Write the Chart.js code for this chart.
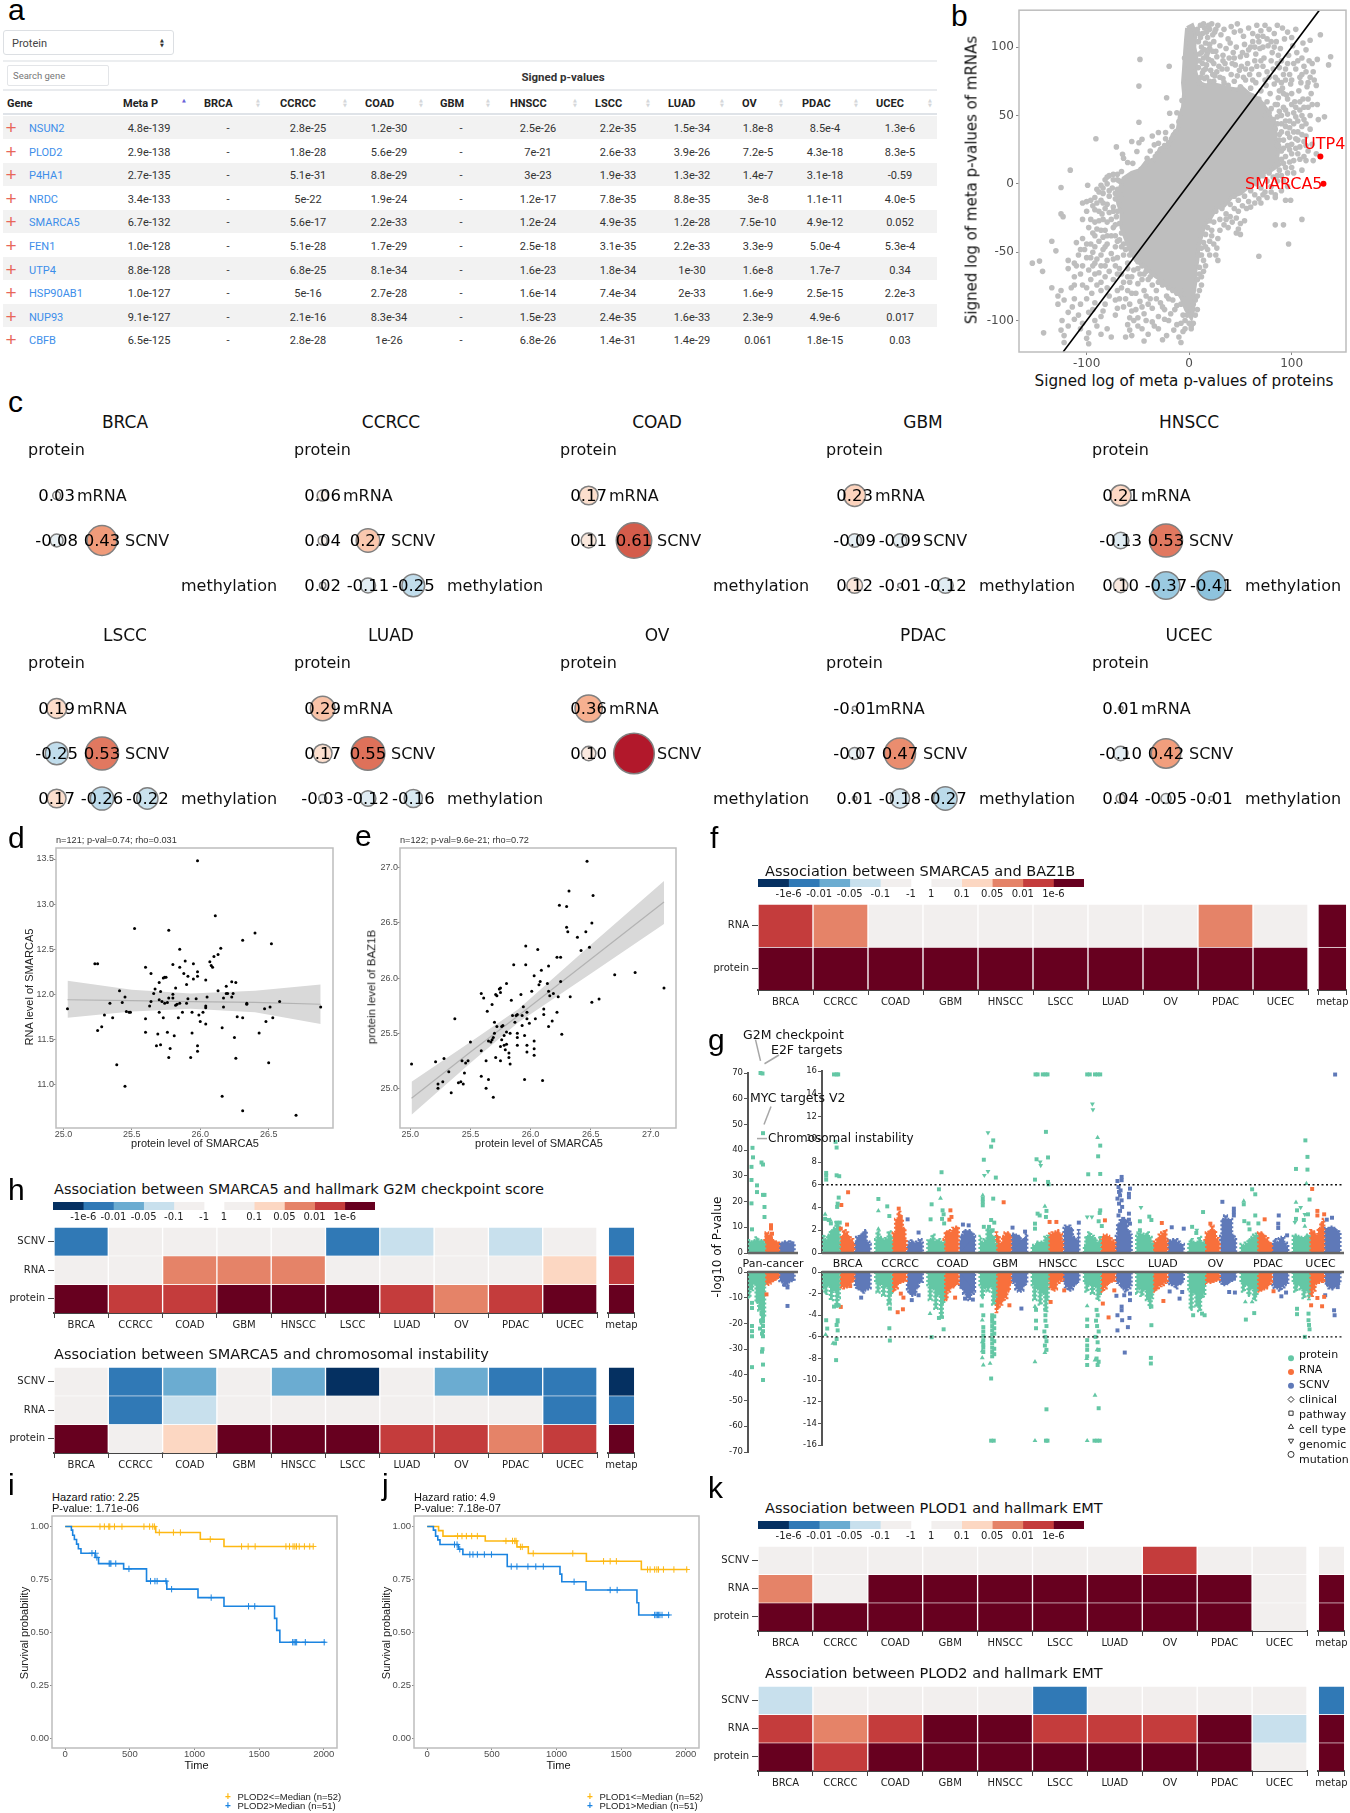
<!DOCTYPE html>
<html lang="en">
<head>
<meta charset="UTF-8">
<title>SMARCA5 multi-panel figure</title>
<script src="https://cdn.jsdelivr.net/npm/chart.js"></script>
<style>
    body { margin: 0; background: #fff; }
    #page { position: relative; width: 1350px; height: 1813px; overflow: hidden; background: #fff; }
    #page canvas { position: absolute; }
    .t { position: absolute; white-space: nowrap; line-height: 1; z-index: 2; }
    .box { position: absolute; box-sizing: border-box; }
</style>
</head>
<body>
<div id="page"></div>
<script>
// ---------- panel a: table values ----------
const tableGenes = ['NSUN2','PLOD2','P4HA1','NRDC','SMARCA5','FEN1','UTP4','HSP90AB1','NUP93','CBFB'];
const tableMetaP = ['4.8e-139','2.9e-138','2.7e-135','3.4e-133','6.7e-132','1.0e-128','8.8e-128','1.0e-127','9.1e-127','6.5e-125'];
const tableBRCA = ['-','-','-','-','-','-','-','-','-','-'];
const tableCCRCC = ['2.8e-25','1.8e-28','5.1e-31','5e-22','5.6e-17','5.1e-28','6.8e-25','5e-16','2.1e-16','2.8e-28'];
const tableCOAD = ['1.2e-30','5.6e-29','8.8e-29','1.9e-24','2.2e-33','1.7e-29','8.1e-34','2.7e-28','8.3e-34','1e-26'];
const tableGBM = ['-','-','-','-','-','-','-','-','-','-'];
const tableHNSCC = ['2.5e-26','7e-21','3e-23','1.2e-17','1.2e-24','2.5e-18','1.6e-23','1.6e-14','1.5e-23','6.8e-26'];
const tableLSCC = ['2.2e-35','2.6e-33','1.9e-33','7.8e-35','4.9e-35','3.1e-35','1.8e-34','7.4e-34','2.4e-35','1.4e-31'];
const tableLUAD = ['1.5e-34','3.9e-26','1.3e-32','8.8e-35','1.2e-28','2.2e-33','1e-30','2e-33','1.6e-33','1.4e-29'];
const tableOV = ['1.8e-8','7.2e-5','1.4e-7','3e-8','7.5e-10','3.3e-9','1.6e-8','1.6e-9','2.3e-9','0.061'];
const tablePDAC = ['8.5e-4','4.3e-18','3.1e-18','1.1e-11','4.9e-12','5.0e-4','1.7e-7','2.5e-15','4.9e-6','1.8e-15'];
const tableUCEC = ['1.3e-6','8.3e-5','-0.59','4.0e-5','0.052','5.3e-4','0.34','2.2e-3','0.017','0.03'];

// ---------- panel b: protein vs mRNA ----------
const bTicksX = [-100, 0, 100];
const bTicksY = [-100, -50, 0, 50, 100];
// outline of the solid part of the cloud
const bCloudOutline = [[-2,114],[3,116],[6,110],[5,100],[7,92],[6,82],[9,74],[16,72],[22,73],[29,72],[38,70],[46,69],[52,70],[58,66],[64,64],[70,60],[76,54],[80,48],[84,44],[84,34],[88,28],[86,20],[88,14],[80,10],[72,8],[66,2],[58,-2],[50,-7],[42,-9],[34,-16],[26,-18],[20,-26],[15,-30],[12,-38],[9,-46],[8,-56],[6,-64],[6,-72],[4,-82],[4,-92],[2,-98],[-3,-92],[-7,-84],[-12,-78],[-20,-76],[-28,-70],[-36,-66],[-44,-60],[-52,-56],[-58,-48],[-62,-40],[-66,-32],[-66,-22],[-70,-12],[-68,-4],[-64,4],[-56,8],[-48,10],[-42,16],[-34,18],[-28,26],[-20,28],[-16,36],[-11,40],[-9,50],[-6,56],[-5,66],[-6,74],[-5,84],[-4,96],[-3,106],[-2,114]];
// the loose points around it, estimated one by one
const bLoosePoints = [
 [8,113],[11,116],[13,110],[15,114],[18,107],[20,113],[22,117],[25,111],[9,104],[12,100],[16,103],[20,99],[24,104],[28,116],[31,109],[34,113],[38,106],[41,115],[44,111],[47,117],[50,112],[53,108],[58,114],[62,110],[66,116],[70,112],[74,116],[68,104],[72,108],[78,113],[83,110],[86,116],[91,114],[96,111],[100,107],[104,113],[111,103],[118,105],[128,109],[138,93],[136,87],
 [10,95],[14,92],[18,96],[22,90],[26,97],[30,101],[33,94],[36,99],[40,103],[43,96],[46,100],[50,93],[54,102],[58,98],[62,104],[65,95],[69,99],[73,92],[77,101],[81,96],[85,104],[89,99],[93,106],[97,94],[101,101],[105,96],[110,92],[114,98],[120,88],[125,91],
 [9,85],[13,81],[17,87],[21,83],[25,79],[29,86],[33,90],[37,84],[41,80],[45,87],[49,83],[53,78],[57,88],[61,84],[64,90],[68,80],[72,86],[76,82],[80,90],[84,78],[88,85],[92,80],[96,88],[100,76],[104,84],[108,78],[112,86],[116,74],[121,82],[124,72],[117,90],
 [10,74],[15,77],[24,75],[33,77],[38,72],[44,75],[50,71],[55,76],[60,70],[65,74],[70,68],[75,72],[79,66],[83,73],[87,63],[91,70],[95,65],[99,73],[103,60],[107,68],[111,62],[115,71],[119,66],[109,74],[94,76],[86,76],
 [62,64],[68,62],[72,58],[76,60],[80,55],[84,58],[88,53],[92,56],[96,51],[100,58],[104,49],[108,54],[112,47],[118,50],[125,58],[132,49],[126,47],[116,56],
 [74,50],[78,52],[82,47],[86,49],[90,44],[94,46],[98,41],[102,44],[106,38],[110,42],[114,35],[118,40],[84,40],[88,36],[92,32],[96,37],[100,29],[104,33],[108,27],[112,31],[116,24],[120,29],
 [82,38],[86,28],[90,24],[94,20],[98,25],[102,17],[106,22],[110,10],[114,17],[121,17],[124,22],[84,14],[88,10],[92,15],[96,8],[100,12],[78,8],[82,5],[86,2],[90,6],[72,6],[76,2],[80,-2],[66,0],[70,-3],[74,-6],[84,-8],[90,-5],
 [56,-2],[60,-5],[64,-8],[68,-11],[72,-8],[50,-6],[54,-9],[58,-13],[44,-9],[48,-12],[52,-16],[60,-17],[36,-12],[40,-15],[44,-18],[32,-18],[36,-22],[40,-24],[46,-25],[50,-29],[54,-27],[26,-20],[30,-26],[24,-28],[20,-27],[34,-30],[38,-32],[48,-33],[50,-37],[46,-36],[18,-32],[22,-34],[16,-37],[14,-43],[20,-42],[28,-40],[12,-47],[18,-48],[24,-44],[27,-47],[10,-52],[14,-56],[20,-52],[28,-56],[10,-61],[14,-64],[8,-70],[12,-68],[10,-78],[6,-85],[4,-88],[6,-96],[4,-102],[2,-106],[84,-10],[94,-12],[99,-12],[84,-30],[92,-30],[110,-26],[97,-44],[68,-53],
 [-48,91],[-19.5,86],[-49,71.5],[-22,63],[-4.5,92],[-19,51.6],[-7,61],[-12,52],[-49,45],[-10,45.5],[-91,33],[-71,27],[-16.6,42],[-13,38],[-30,37.5],[-23,37.5],[-36,35],[-46,32.6],[-56,31],[-49,30],[-34,28.5],[-30,29.7],[-23,33],[-17,33],[-31,22],[-51,23.6],[-65,21.6],[-64,18.7],[-55,15],[-60,15.6],[-41,18.7],[-33,20],[-43,12.6],[-47,10.7],[-116,10],[-99,-1],[-125,-2.7],[-38,24],[-28,25],[-24,28],[-20,30],[-37,16],
 [-70,7],[-78,6],[-66,9],[-82,3],[-74,3],[-68,2],[-86,-1],[-80,0],[-75,-3],[-88,-6],[-70,-4],[-66,-8],[-92,-10],[-84,-7],[-78,-9],[-72,-11],[-104,-14],[-100,-13],[-90,-14],[-86,-12],[-80,-15],[-74,-17],[-68,-15],[-100,-20],[-92,-19],[-85,-22],[-78,-21],[-71,-24],[-125,-22],[-123,-24],[-96,-26],[-88,-27],[-80,-28],[-68,-29],[-98,-32],[-90,-33],[-82,-34],[-74,-32],[-66,-36],[-92,-38],[-84,-39],[-76,-38],[-68,-41],[-110,-43],[-104,-40],[-96,-44],[-88,-42],[-80,-44],[-72,-46],[-64,-44],[-134,-42],[-102,-48],[-94,-50],[-84,-48],[-76,-51],[-62,-48],[-130,-49],[-108,-52],[-100,-54],[-90,-55],[-80,-56],[-70,-54],[-58,-52],[-118,-56],[-92,-58],[-86,-60],[-72,-60],[-60,-58],[-50,-57],[-146,-56.5],[-153,-58],[-143,-64],[-118,-62],[-110,-60],[-98,-63],[-88,-65],[-78,-64],[-66,-66],[-54,-63],[-46,-60],[-112,-68],[-96,-70],[-86,-72],[-74,-70],[-64,-72],[-56,-68],[-44,-66],[-104,-74],[-86,-78],[-66,-76],[-60,-78],[-50,-73],[-40,-70],[-30,-72],[-20,-76],
 [-125,-78],[-115,-76],[-95,-80],[-78,-82],[-62,-84],[-52,-80],[-44,-78],[-32,-78],[-22,-82],[-12,-80],[-134,-76],[-128,-82],[-122,-85],[-112,-84],[-92,-87],[-82,-88],[-72,-85],[-58,-88],[-48,-86],[-38,-84],[-28,-87],[-16,-85],[-128,-88],[-114,-90],[-94,-92],[-84,-93],[-70,-91],[-56,-93],[-46,-90],[-36,-91],[-24,-92],[-12,-89],[-6,-84],[-118,-94],[-108,-96],[-98,-94],[-86,-97],[-72,-96],[-58,-98],[-44,-95],[-30,-97],[-18,-95],[-6,-96],[0,-102],[-124,-100],[-112,-99],[-104,-102],[-92,-100],[-60,-103],[-54,-100],[-36,-101],[-24,-99],[-12,-103],[-4,-100],[2,-104],[-118,-104],[-106,-106],[-90,-104],[-80,-106],[-58,-107],[-50,-104],[-30,-106],[-15,-107],[-6,-108],[-125,-107],[-98,-109],[-86,-110],[-76,-112],[-56,-111],[-40,-110],[-22,-111],[-10,-112],[-4,-106],[-122,-111],[-100,-113],[-62,-112],[-44,-115],[-26,-114],[-8,-116],[-142,-109],[-122,-116],[-98,-117],
 // clumps that fill the speckled areas
 [9,110],[11,107],[14,117],[17,111],[19,116],[23,109],[26,113],[12,96],[15,98],[17,94],[20,102],[23,97],[10,90],[13,88],[16,84],[19,91],[24,88],[27,93],[11,78],[14,83],[17,78],[20,75],[23,80],[27,82],[30,78],[34,74],[32,84],[35,88],[39,92],[42,88],[44,92],[47,79],[51,86],[55,84],[59,80],[62,76],[66,86],[70,90],[74,76],[78,78],[82,84],[86,88],[90,74],[94,84],[98,80],[102,88],[106,90],[110,80],[114,82],[118,78],[122,76],[52,96],[56,94],[60,100],[64,100],[67,108],[72,100],[76,106],[80,104],[83,100],[87,94],[90,90],
 [88,68],[92,66],[96,62],[100,66],[104,56],[108,60],[112,56],[116,62],[120,58],[86,58],[90,50],[94,54],[98,46],[102,52],[106,46],[110,50],[114,44],[86,44],[90,38],[94,42],[98,34],[102,38],[106,32],[110,36],[114,28],[88,32],[92,26],[96,28],[100,22],[104,26],[108,18],[112,20],[90,18],[94,12],[98,16],[102,8],[86,6],[92,2],[96,-2],[80,-6],[76,-10],[70,-14],[64,-14],[56,-18],[48,-20],[42,-28],[36,-26],
 [12,-52],[16,-60],[12,-74],[8,-82],[8,-92],[10,-66],[16,-46],[22,-38],[30,-34],[26,-52],
 [-70,3],[-74,7],[-80,5],[-84,-3],[-90,-4],[-78,-5],[-72,-7],[-96,-12],[-84,-14],[-94,-16],[-88,-20],[-82,-18],[-74,-20],[-70,-20],[-104,-26],[-92,-28],[-84,-26],[-76,-26],[-72,-30],[-94,-36],[-86,-34],[-80,-38],[-72,-38],[-100,-44],[-92,-46],[-82,-46],[-70,-42],[-66,-46],[-106,-48],[-96,-54],[-86,-52],[-74,-55],[-64,-52],[-56,-50],[-112,-58],[-104,-60],[-94,-60],[-82,-60],[-68,-62],[-60,-62],[-50,-62],[-42,-64],[-106,-66],[-92,-66],[-82,-68],[-70,-66],[-60,-68],[-48,-66],[-38,-68],[-112,-74],[-100,-76],[-90,-74],[-80,-76],[-70,-78],[-58,-72],[-46,-70],[-36,-74],[-26,-74],[-16,-78],[-8,-78],[-68,-84],[-56,-80],[-42,-82],[-32,-84],[-20,-84],[-8,-88],[-64,-90],[-52,-92],[-40,-88],[-26,-90],[-14,-92],[-2,-96],[-106,-88],[-100,-84],[-50,-98],[-42,-100],[-20,-100],[-8,-102],[-46,-106],[-34,-104]
];
const bDiagonal = [[-123,-123],[127,127]];
const bHighlighted = [[128,20],[131,0]];

// ---------- panel c: correlation bubbles, [column, row, value] ----------
const cCancers = ['BRCA','CCRCC','COAD','GBM','HNSCC','LSCC','LUAD','OV','PDAC','UCEC'];
const cBRCA = [[0,0,0.03],[0,1,-0.08],[1,1,0.43]];
const cCCRCC = [[0,0,0.06],[0,1,0.04],[1,1,0.27],[0,2,0.02],[1,2,-0.11],[2,2,-0.25]];
const cCOAD = [[0,0,0.17],[0,1,0.11],[1,1,0.61]];
const cGBM = [[0,0,0.23],[0,1,-0.09],[1,1,-0.09],[0,2,0.12],[1,2,-0.01],[2,2,-0.12]];
const cHNSCC = [[0,0,0.21],[0,1,-0.13],[1,1,0.53],[0,2,0.10],[1,2,-0.37],[2,2,-0.41]];
const cLSCC = [[0,0,0.19],[0,1,-0.25],[1,1,0.53],[0,2,0.17],[1,2,-0.26],[2,2,-0.22]];
const cLUAD = [[0,0,0.29],[0,1,0.17],[1,1,0.55],[0,2,-0.03],[1,2,-0.12],[2,2,-0.16]];
const cOV = [[0,0,0.36],[0,1,0.10],[1,1,0.80,'nolabel']];
const cPDAC = [[0,0,-0.01],[0,1,-0.07],[1,1,0.47],[0,2,0.01],[1,2,-0.18],[2,2,-0.27]];
const cUCEC = [[0,0,0.01],[0,1,-0.10],[1,1,0.42],[0,2,0.04],[1,2,-0.05],[2,2,-0.01]];
const cValues = [cBRCA,cCCRCC,cCOAD,cGBM,cHNSCC,cLSCC,cLUAD,cOV,cPDAC,cUCEC];

// ---------- panels d, e: scatter plots ----------
const dTicksX = [25.0,25.5,26.0,26.5];
const dTicksY = [11.0,11.5,12.0,12.5,13.0,13.5];
const dPoints = [[25.03,11.84],[25.23,12.34],[25.25,12.34],[25.25,11.60],[25.28,11.64],[25.30,11.77],[25.34,11.90],[25.36,11.74],[25.39,11.22],[25.41,12.04],[25.43,11.91],[25.45,11.97],[25.45,10.98],[25.46,11.81],[25.48,11.80],[25.49,11.80],[25.52,12.73],[25.60,12.30],[25.60,11.73],[25.60,11.58],[25.63,11.87],[25.64,12.23],[25.64,11.92],[25.66,12.01],[25.67,12.06],[25.68,11.43],[25.69,11.56],[25.70,12.13],[25.70,11.80],[25.71,11.44],[25.71,12.03],[25.70,11.94],[25.72,11.92],[25.73,11.74],[25.73,12.18],[25.74,12.19],[25.75,12.19],[25.74,11.90],[25.76,11.91],[25.76,11.58],[25.77,11.96],[25.77,12.71],[25.77,11.30],[25.78,11.40],[25.80,12.33],[25.80,12.00],[25.80,11.96],[25.81,11.54],[25.82,11.88],[25.83,11.89],[25.82,12.07],[25.84,11.74],[25.85,12.30],[25.85,11.90],[25.85,12.50],[25.87,11.80],[25.88,12.23],[25.89,12.37],[25.90,12.11],[25.90,11.90],[25.91,12.20],[25.91,11.95],[25.93,11.30],[25.94,11.57],[25.94,11.80],[25.95,12.17],[25.95,12.34],[25.97,11.95],[25.98,12.20],[25.98,12.25],[25.98,11.43],[25.98,11.37],[25.98,13.48],[25.99,11.77],[26.00,11.70],[26.02,11.80],[26.04,11.67],[26.04,12.16],[26.05,11.97],[26.04,11.87],[26.04,11.85],[26.07,12.36],[26.08,12.32],[26.09,12.30],[26.10,12.42],[26.11,12.87],[26.13,12.44],[26.13,12.04],[26.15,12.51],[26.16,11.63],[26.17,11.86],[26.17,11.96],[26.16,10.87],[26.19,12.09],[26.19,12.01],[26.20,12.01],[26.23,12.14],[26.23,11.97],[26.24,12.01],[26.25,11.52],[26.26,12.13],[26.27,11.75],[26.26,11.29],[26.31,10.71],[26.31,11.74],[26.31,12.60],[26.34,11.90],[26.34,11.89],[26.40,12.68],[26.43,11.57],[26.47,11.84],[26.48,11.70],[26.50,11.24],[26.51,11.86],[26.52,12.56],[26.53,11.74],[26.58,11.92],[26.70,10.66],[26.88,11.86]];
const dFitX = [25.03,25.5,25.93,26.4,26.88];
const dFitY = [11.94,11.93,11.92,11.91,11.89];
const dFitUpper = [12.15,12.05,12.01,12.04,12.11];
const dFitLower = [11.74,11.81,11.84,11.80,11.67];

const eTicksX = [25.0,25.5,26.0,26.5,27.0];
const eTicksY = [25.0,25.5,26.0,26.5,27.0];
const ePoints = [[25.01,25.22],[25.21,25.24],[25.28,25.27],[25.23,25.04],[25.23,25.00],[25.27,25.06],[25.32,25.15],[25.34,24.96],[25.37,25.63],[25.40,25.05],[25.42,25.06],[25.44,25.04],[25.43,25.25],[25.45,25.14],[25.46,25.23],[25.48,25.25],[25.50,25.42],[25.59,25.34],[25.59,25.11],[25.59,25.86],[25.61,25.82],[25.63,25.00],[25.63,25.25],[25.64,25.70],[25.65,25.08],[25.65,25.43],[25.67,25.42],[25.68,25.44],[25.68,25.76],[25.69,24.92],[25.69,25.46],[25.70,25.50],[25.70,25.60],[25.71,25.28],[25.72,25.84],[25.71,25.85],[25.72,25.56],[25.74,25.90],[25.75,25.91],[25.75,25.38],[25.75,25.25],[25.75,25.87],[25.76,25.56],[25.77,25.57],[25.76,25.44],[25.78,25.48],[25.78,25.39],[25.79,25.35],[25.80,25.95],[25.80,25.51],[25.80,25.40],[25.82,25.32],[25.82,25.28],[25.83,25.22],[25.83,25.50],[25.84,25.80],[25.86,26.12],[25.85,25.66],[25.88,25.66],[25.87,25.60],[25.89,25.67],[25.89,25.50],[25.89,25.46],[25.89,25.39],[25.92,25.85],[25.93,25.66],[25.93,25.57],[25.94,25.74],[25.95,25.08],[25.95,25.48],[25.96,26.29],[25.96,26.12],[25.97,25.63],[25.97,25.39],[25.97,25.69],[25.97,25.33],[25.99,25.59],[26.01,25.88],[26.03,26.02],[26.03,25.43],[26.03,25.36],[26.03,25.30],[26.04,25.63],[26.06,26.26],[26.07,25.94],[26.08,25.97],[26.09,26.07],[26.10,25.07],[26.11,25.72],[26.11,25.67],[26.14,25.95],[26.15,26.11],[26.15,25.88],[26.16,25.84],[26.15,25.56],[26.18,25.61],[26.19,25.86],[26.22,26.19],[26.23,25.83],[26.22,25.69],[26.24,26.66],[26.25,26.19],[26.25,25.97],[26.26,25.49],[26.30,26.65],[26.30,26.46],[26.31,26.42],[26.32,26.79],[26.33,25.83],[26.39,26.37],[26.42,26.25],[26.46,26.42],[26.47,27.06],[26.49,26.28],[26.51,26.50],[26.51,25.78],[26.52,26.75],[26.57,25.81],[26.70,26.03],[26.87,26.05],[27.11,25.91]];
const eFitX = [25.01,25.5,25.9,26.5,27.11];
const eFitY = [24.91,25.33,25.66,26.17,26.69];
const eFitUpper = [25.06,25.42,25.72,26.30,26.88];
const eFitLower = [24.76,25.23,25.60,26.04,26.49];

// ---------- heatmaps: significance level per cell, -4 (-1e-6) .. 0 (n.s.) .. 4 (1e-6) ----------
const heatCancers = ['BRCA','CCRCC','COAD','GBM','HNSCC','LSCC','LUAD','OV','PDAC','UCEC'];
const legendCells = [1,1,1,1,1,0.66,1,1,1,1,1];
const legendEdges = [1,2,3,4,5,5.66,6.66,7.66,8.66,9.66];
const legendLabels = ['-1e-6','-0.01','-0.05','-0.1','-1','1','0.1','0.05','0.01','1e-6'];

const fRNA = [3,2,0,0,0,0,0,0,2,0];
const fProtein = [4,4,4,4,4,4,4,4,4,4];
const fMeta = [4,4]; // protein, RNA

const h1SCNV = [-3,0,0,0,0,-3,-1,0,-1,0];
const h1RNA = [0,0,2,2,2,0,0,0,0,1];
const h1Protein = [4,3,3,4,4,4,3,2,3,4];
const h1Meta = [4,3,-3]; // protein, RNA, SCNV

const h2SCNV = [0,-3,-2,0,-2,-4,0,-2,-3,-3];
const h2RNA = [0,-3,-1,0,0,0,0,0,0,-3];
const h2Protein = [4,0,1,4,4,4,3,3,2,3];
const h2Meta = [4,-3,-4];

const k1SCNV = [0,0,0,0,0,0,0,3,0,0];
const k1RNA = [2,0,4,4,4,4,4,4,4,0];
const k1Protein = [4,4,4,4,4,4,4,4,4,0];
const k1Meta = [4,4,0];

const k2SCNV = [-1,0,0,0,0,-3,0,0,0,0];
const k2RNA = [3,2,3,4,4,3,3,3,4,-1];
const k2Protein = [4,3,4,4,4,4,4,4,4,0];
const k2Meta = [4,4,-3];

// ---------- panel g: Manhattan plots ----------
const gTicksPanUp = [0,10,20,30,40,50,60,70];
const gTicksPanLow = [0,-10,-20,-30,-40,-50,-60,-70];
const gTicksMainUp = [0,2,4,6,8,10,12,14,16];
const gTicksMainLow = [0,-2,-4,-6,-8,-10,-12,-14,-16];
const gGroups = ['BRCA','CCRCC','COAD','GBM','HNSCC','LSCC','LUAD','OV','PDAC','UCEC'];
// height of the solid band across each omic's column, one row per cancer
const gUpProtein = [[1.6,1.2,1.6,2.0,2.2,2.7,2.5],[1.2,1.9,1.4,1.2,1.3,1.9,1.5],[1.1,1.2,1.6,1.1,1.2,1.0,1.0],[1.5,1.0,1.2,2.2,2.0,1.5,.8],[.6,.7,1.0,1.0,1.0,1.4,1.5],[.7,1.5,1.8,1.5,1.3,1.0,1.5],[1.5,1.8,1.7,1.6,1.8,1.4,.9],[.9,1.2,1.0,1.0,1.4,1.0,.9],[.8,.7,.9,1.2,1.4,1.6,1.7],[1.5,1.6,1.5,1.4,1.4,1.6,1.6]];
const gUpRNA = [[1.0,1.5,2.0,1.8,1.5,1.2,.9],[1.0,1.8,3.0,3.6,3.0,2.2,1.2],[1.2,1.9,2.0,1.9,2.2,2.3,2.3],[1.8,1.5,.9,1.5,1.8,1.8,1.6],[1.4,1.7,1.8,1.9,2.0,1.7,1.0],[1.2,1.5,1.6,1.5,1.4,1.1,.9],[.8,1.0,1.3,1.6,1.8,2.0,1.1],[1.3,1.8,2.0,2.4,2.0,1.3,1.0],[1.6,1.8,1.8,1.6,1.3,1.0,.8],[1.3,2.0,1.9,1.6,2.2,2.7,3.0]];
const gUpSCNV = [[1.0,1.4,1.6,1.8,2.0,1.0,.8],[.7,1.0,1.1,.9,1.0,1.2,.9],[1.0,1.6,2.0,2.0,2.0,1.8,1.5],[1.7,1.7,1.6,1.5,1.2,1.0,1.7],[2.2,2.4,2.4,2.2,1.4,1.2,2.0],[1.5,2.6,3.0,3.0,2.9,2.0,1.6],[1.2,1.1,1.2,1.2,1.0,.8,.8],[1.5,3.0,3.3,3.0,3.0,1.6,1.2],[.9,1.2,1.0,1.3,1.4,.9,.6],[2.2,2.2,2.3,2.3,2.2,2.0,1.8]];
const gLowProtein = [[1.5,2.0,1.3,2.6,1.8,3.2,2.4],[1.0,1.9,1.2,2.2,1.4,3.0,2.2],[1.2,2.6,1.6,3.4,2.2,4.2,3.0],[1.2,2.4,1.5,1.8,1.4,3.0,2.4],[1.2,2.6,1.6,3.0,2.0,3.6,2.6],[1.0,1.8,1.2,2.0,1.4,2.6,2.0],[2.0,1.6,2.2,1.7,2.6,3.3,2.4],[1.6,3.5,2.0,3.2,3.6,2.4,2.0],[1.0,1.8,1.2,2.2,1.6,2.6,2.2],[1.0,1.8,1.2,1.6,2.4,1.8,2.5]];
const gLowRNA = [[1.2,1.4,1.5,1.4,1.2,1.0,.8],[1.7,1.8,1.5,1.1,1.0,.9,.8],[2.7,2.6,1.8,1.5,1.4,1.2,1.1],[3.7,3.4,3.0,2.7,2.4,1.8,1.2],[.9,1.5,1.7,1.6,1.0,.8,.7],[2.0,1.8,1.5,1.2,1.0,.9,.8],[1.7,1.8,1.6,1.3,1.2,1.0,.8],[1.2,1.0,1.0,1.0,.9,.8,.7],[1.8,1.8,1.7,1.6,1.5,1.2,.9],[2.3,2.2,1.7,1.1,1.0,.9,.8]];
const gLowSCNV = [[1.3,1.6,1.7,1.9,1.7,1.6,1.5],[1.6,2.0,2.2,2.1,1.5,1.0,.9],[1.4,1.6,2.0,2.4,2.6,2.0,1.8],[.8,1.0,1.6,1.8,1.7,1.3,1.0],[1.0,1.4,1.7,1.6,1.3,1.1,.9],[.8,1.0,1.4,1.6,1.8,1.5,1.2],[.9,1.1,1.2,1.5,1.2,1.1,.9],[.9,1.2,1.2,1.1,.9,.8,.7],[1.2,1.5,1.5,1.7,1.4,1.2,1.0],[1.0,1.3,1.5,1.6,1.4,1.3,1.1]];
// single points: [group position, -log10 p]
const gUpProteinRect = [[.23,15.7],[.28,15.7],[.31,15.7],[.08,7.04],[.08,6.8],[.08,6.45],[.28,6.83],[.33,6.75],[.28,9.27],[.26,9.77],[.32,4.87],[.30,4.34],[.29,4.05],[.06,3.0],[.13,2.9],[.17,2.6],[.28,2.67],[.34,2.67],[1.08,4.75],[1.25,4.1],[1.29,3.25],[2.29,7.1],[2.24,5.6],[2.1,4.28],[2.08,2.96],[2.31,3.75],[2.33,3.4],[2.3,3.0],[2.34,2.6],[3.1,8.2],[3.24,9.35],[3.28,9.9],[3.33,6.63],[3.08,4.78],[3.08,4.49],[3.08,4.19],[3.28,4.78],[3.1,2.3],[3.24,2.9],[3.3,2.67],[3.2,2.3],[3.27,2.0],[4.09,15.7],[4.13,15.7],[4.23,15.7],[4.28,15.7],[4.32,15.7],[4.29,10.65],[4.11,8.24],[4.33,8.4],[4.08,6.45],[4.33,6.25],[4.34,6.04],[4.3,3.7],[4.29,3.17],[4.08,2.58],[4.08,2.14],[4.13,3.46],[4.17,3.3],[5.08,15.7],[5.13,15.7],[5.23,15.7],[5.28,15.7],[5.33,15.7],[5.33,9.44],[5.29,8.5],[5.1,6.92],[5.33,6.95],[5.33,3.75],[5.32,3.52],[5.3,2.79],[5.36,2.37],[6.09,2.79],[6.27,3.2],[6.31,2.9],[6.09,2],[7.3,3.6],[7.09,2.3],[7.17,1.76],[8.24,5.6],[8.3,5.16],[8.08,4.28],[8.3,3.3],[8.09,2.8],[8.17,2.6],[8.36,2.6],[8.19,2.08],[9.26,9.9],[9.3,8.45],[9.08,7.39],[9.3,7.33],[9.34,4.7],[9.1,3.75],[9.31,3.4],[9.08,3.0],[9.23,2.9]];
const gUpProteinTri = [[.06,3.4],[.16,2.9],[1.08,3.7],[1.08,2.1],[2.27,4.8],[3.08,5.07],[4.27,4.1],[5.28,10.15],[9.08,4.46],[9.28,6.1],[9.25,2.35],[8.08,4.57]];
const gUpProteinInv = [[3.18,10.58],[3.18,7.18],[3.11,6.83],[4.18,8.0],[4.19,7.7],[5.18,13.1],[5.19,12.6],[5.08,3.17],[5.17,3.17],[6.11,4.0],[9.17,4.0],[9.06,2.7],[9.25,3.4],[7.18,2.0]];
const gUpRnaMarks = [[.5,5.34],[.37,4.22],[3.48,4.46],[9.39,5.63],[2.48,3.17],[.48,2.5],[.36,2.14],[1.47,3.9],[1.51,3.17],[2.46,3.75],[2.44,2.93],[4.36,2.73],[4.49,2.73],[5.42,2.87],[6.51,2.64],[7.44,2.58],[8.48,2.96],[9.49,3.7],[9.49,3.3],[9.62,3.4]];
const gUpScnvMarks = [[1.64,2.96],[1.85,1.8],[2.7,2.5],[2.81,2.43],[3.65,2.23],[3.89,1.88],[4.92,2.67],[6.7,2.26],[6.93,2.14],[7.67,4.5],[7.89,3.9],[7.89,3.6],[7.89,3.3],[8.75,3.3],[8.74,2.58],[8.74,2.2],[8.91,1.55],[9.77,3.1],[9.67,2.93],[9.83,15.69],[5.74,6.69],[5.66,6.33],[5.74,6.4],[5.68,5.8],[5.72,5.5],[5.9,5.66],[5.88,5.2],[5.88,4.9],[5.69,5.37],[5.71,5.07],[5.66,4.78],[5.74,4.63],[5.69,4.34],[5.75,4.05],[5.71,3.7],[5.68,3.3],[5.77,3.0],[5.88,3.46],[5.88,2.93],[5.9,2.58]];
const gLowProteinRect = [[.08,-4.46],[.1,-5.23],[.27,-8.15],[.3,-4.46],[.28,-4.9],[.3,-5.4],[.28,-6.2],[.25,-6.6],[.23,-3.2],[.32,-3.1],[1.29,-5.2],[1.3,-6.34],[1.3,-3.38],[1.29,-2.77],[2.1,-6.03],[2.33,-5.3],[2.29,-4.15],[2.24,-4.25],[3.24,-9.85],[3.24,-15.6],[3.29,-15.6],[3.09,-5.1],[3.09,-5.5],[3.09,-5.9],[3.09,-6.3],[3.09,-6.7],[3.09,-7.0],[3.09,-7.4],[3.26,-4],[3.26,-4.3],[3.26,-4.6],[3.26,-5],[3.26,-5.4],[3.26,-5.8],[3.26,-6.2],[3.26,-6.6],[3.26,-7],[3.26,-7.4],[3.26,-7.8],[3.3,-4.1],[3.3,-4.7],[3.3,-5.2],[3.3,-5.7],[3.3,-6.4],[3.3,-7.1],[3.3,-7.6],[3.06,-3.1],[3.09,-4],[4.3,-12.7],[4.29,-15.6],[4.32,-15.6],[4.1,-3.5],[4.1,-4.5],[4.1,-5.2],[4.28,-3.5],[4.28,-4],[4.28,-4.5],[4.3,-5],[4.26,-5.5],[4.28,-6],[4.3,-6.4],[4.27,-6.8],[4.3,-7.2],[5.08,-8.6],[5.22,-15.6],[5.27,-15.6],[5.32,-15.6],[5.3,-12.6],[5.08,-4.4],[5.08,-5],[5.08,-6.3],[5.08,-6.8],[5.08,-7.2],[5.08,-7.8],[5.26,-3.5],[5.28,-4],[5.25,-4.5],[5.27,-5],[5.3,-5.5],[5.24,-6],[5.28,-6.5],[5.3,-7.2],[5.26,-8],[5.3,-8.3],[5.28,-8.6],[6.3,-7.94],[6.3,-8.46],[6.31,-4.92],[6.31,-3.2],[7.11,-4],[7.28,-3.85],[7.33,-4],[8.12,-4.4],[8.28,-3.8],[9.25,-6],[9.1,-3.4],[9.1,-3.9],[9.32,-3.85],[9.32,-4.46],[9.33,-4.9],[9.34,-5.3]];
const gLowProteinTri = [[.07,-5.8],[.21,-6.6],[.3,-4.6],[2.07,-3.85],[3.07,-4.46],[3.07,-6.46],[3.07,-7.3],[3.07,-7.94],[3.09,-8.6],[3.22,-8.46],[4.08,-8.3],[4.08,-15.6],[4.27,-7.45],[4.08,-3.2],[5.08,-15.6],[5.23,-11.4],[5.07,-8],[5.08,-3.14],[5.23,-8.15],[5.27,-7.2],[8.11,-2.77],[8.24,-2.77],[9.08,-1.4]];
const gLowRnaMarks = [[.36,-3.23],[1.45,-3.72],[1.56,-2.37],[1.55,-3.45],[2.55,-2.37],[3.59,-3.08],[4.38,-2.77],[5.38,-2.92],[5.49,-4.2],[6.54,-2.68],[9.37,-3.08],[9.58,-3.17],[8.65,-1.78],[.54,-1.3],[1.51,-2],[4.64,-1.7],[5.6,-1.7],[9.49,-2.4],[9.62,-2.3]];
const gLowScnvMarks = [[.75,-2.37],[1.72,-2.6],[1.85,-2.15],[2.74,-2.46],[2.89,-2.55],[3.82,-3.38],[5.66,-4],[5.75,-4.46],[5.66,-5.4],[5.89,-4.25],[5.86,-5.1],[5.8,-7.45],[5.74,-3.2],[5.74,-3.54],[5.9,-2.6],[5.9,-2],[5.79,-2.15],[5.64,-2.2],[6.85,-2.46],[6.9,-1.85],[6.66,-1.8],[7.8,-1.85],[7.91,-1.9],[8.8,-2.25],[8.89,-1.9],[9.81,-3.54],[9.82,-4],[9.64,-2.15],[9.88,-1.4]];
// pan-cancer column
const gPanUpDense = [[5,4.5,5,6,5,5,4],[6,8,7,6,5,4.5,4],[4,4,4.5,4.5,4,4.5,4]];
const gPanLowDense = [[10,7,5,12,15,20,18],[5,5,4.5,4,3.5,3,2],[3.5,4,5,5,4,3.5,3.5]];
const gPanUpProtein = [[.25,70],[.29,69.8],[.3,46.6],[.09,40.9],[.1,37.2],[.07,33.5],[.27,35.2],[.3,34.4],[.07,28.4],[.18,26.3],[.18,23.7],[.3,22.6],[.33,22.6],[.33,17.9],[.07,19.3],[.33,14],[.08,9.2]];
const gPanUpRna = [[.46,10.8],[.46,9.5],[.48,7.5],[.37,6.9],[.45,6.2]];
const gPanLowProtein = [[.3,-42],[.3,-36],[.08,-37],[.29,-30],[.28,-31],[.08,-21],[.08,-23],[.08,-25],[.08,-12],[.08,-14],[.3,-17],[.3,-19],[.3,-21],[.3,-23],[.3,-25],[.24,-10],[.26,-12],[.24,-14],[.27,-16],[.26,-19],[.24,-22],[.28,-24]];
const gPanLowRna = [[.37,-8.7]];
const gPanLowScnv = [[.79,-13.2],[.73,-5],[.79,-6]];
// leader lines of the annotations, in pan-cancer axis units
const gLeaderG2M = [[.15,83],[.25,74.7]];
const gLeaderE2F = [[.62,77],[.33,73.6]];
const gLeaderMYC = [[.46,57],[.32,50]];
const gLeaderCIN = [[.18,44.5],[.38,44.5]];
const gLegendNames = ['protein','RNA','SCNV','clinical','pathway','cell type','genomic','mutation'];

// ---------- panels i, j: survival ----------
const kmTicksX = [0,500,1000,1500,2000];
const kmTicksY = [0,0.25,0.5,0.75,1];
const iLowT = [0,700,1045,1228,1922];
const iLowS = [1,0.972,0.94,0.906,0.906];
const iLowCensor = [[269,1],[303,1],[337,1],[345,1],[381,1],[439,1],[609,1],[653,1],[677,1],[690,1],[728,.972],[837,.972],[891,.972],[1122,.94],[1364,.906],[1415,.906],[1469,.906],[1707,.906],[1735,.906],[1762,.906],[1776,.906],[1789,.906],[1810,.906],[1850,.906],[1891,.906],[1918,.906]];
const iHighT = [0,48,58,71,88,102,122,231,258,452,629,786,1027,1228,1619,1636,1660,2013];
const iHighS = [1,.983,.959,.939,.917,.895,.874,.854,.825,.8,.742,.704,.664,.623,.566,.509,.453,.453];
const iHighCensor = [[207,.874],[235,.874],[245,.854],[340,.825],[347,.825],[354,.825],[391,.825],[493,.8],[660,.742],[694,.742],[711,.742],[779,.742],[823,.704],[1129,.664],[1418,.623],[1466,.623],[1759,.453],[1770,.453],[1780,.453],[1790,.453],[1857,.453],[2003,.453]];
const jLowT = [0,88,122,449,694,782,1231,1656,2014];
const jLowS = [1,.981,.955,.932,.904,.873,.836,.797,.797];
const jLowCensor = [[235,.955],[269,.955],[303,.955],[344,.955],[388,.955],[609,.932],[660,.932],[677,.932],[687,.932],[721,.904],[735,.904],[820,.873],[1126,.873],[1364,.836],[1415,.836],[1463,.836],[1704,.797],[1724,.797],[1759,.797],[1776,.797],[1789,.797],[1827,.797],[1908,.797],[2007,.797]];
const jHighT = [0,48,65,82,99,241,276,619,1027,1041,1228,1622,1636,1874];
const jHighS = [1,.983,.955,.937,.915,.893,.868,.811,.775,.739,.70,.64,.582,.582];
const jHighCensor = [[211,.915],[231,.915],[252,.893],[330,.868],[354,.868],[388,.868],[442,.868],[497,.868],[650,.811],[694,.811],[779,.811],[840,.811],[898,.811],[1136,.739],[1415,.70],[1469,.70],[1759,.582],[1770,.582],[1780,.582],[1790,.582],[1800,.582],[1816,.582],[1867,.582]];

// ---------- helpers ----------
const page = document.getElementById('page');
Chart.defaults.font.family = '"DejaVu Sans", sans-serif';
Chart.defaults.plugins.legend.display = false;
Chart.defaults.plugins.tooltip.enabled = false;

const LIB = '"Liberation Sans", Arial, sans-serif';
const DJV = '"DejaVu Sans", sans-serif';
const GREEN = '#64c7a5', ORANGE = '#f8703c', PURPLE = '#5f79b8';
const GRAY_TICK = '#4d4d4d';

function txt(s, x, y, o) {
    o = o || {};
    const d = document.createElement('div');
    d.className = 't';
    d.textContent = s;
    d.style.left = x + 'px';
    d.style.top = y + 'px';
    d.style.font = (o.weight || 'normal') + ' ' + (o.size || 12) + 'px ' + (o.font || DJV);
    d.style.lineHeight = '1';
    d.style.color = o.color || '#111';
    const shift = { l: '0', c: '-50%', r: '-100%' }[o.anchor || 'l'];
    d.style.transform = 'translate(' + shift + ',-50%)' + (o.rot ? ' rotate(' + o.rot + 'deg)' : '');
    page.appendChild(d);
    return d;
}

function box(x, y, w, h, css) {
    const d = document.createElement('div');
    d.className = 'box';
    d.style.left = x + 'px'; d.style.top = y + 'px';
    d.style.width = w + 'px'; d.style.height = h + 'px';
    Object.assign(d.style, css);
    page.appendChild(d);
}

// puts a chart so its plot area lands on plot (l,t,r,b), m = room around it for the axes.
// m.t has to be bigger than half a tick label or chart.js pushes the plot down.
function mount(plot, m, cfg) {
    const c = document.createElement('canvas');
    c.width = plot.r - plot.l + m.l + m.r;
    c.height = plot.b - plot.t + m.t + m.b;
    c.style.left = (plot.l - m.l) + 'px';
    c.style.top = (plot.t - m.t) + 'px';
    page.appendChild(c);
    const sc = cfg.options.scales;
    const pad = { top: m.t, right: m.r, left: 0, bottom: 0 };
    if (sc.x.display === false) pad.bottom = m.b; else sc.x.afterFit = s => { s.height = m.b; };
    if (sc.y.display === false) pad.left = m.l; else sc.y.afterFit = s => { s.width = m.l; };
    cfg.options.layout = { padding: pad };
    cfg.options.responsive = false;
    cfg.options.animation = false;
    cfg.options.events = [];
    return new Chart(c, cfg);
}

const fixedTicks = vals => s => { s.ticks = vals.map(value => ({ value })); };

const framePlugin = {
    id: 'frame',
    afterDatasetsDraw(chart) {
        const a = chart.chartArea, g = chart.ctx;
        g.save();
        g.strokeStyle = '#bdbdbd';
        g.lineWidth = 1.5;
        g.strokeRect(a.left, a.top, a.right - a.left, a.bottom - a.top);
        g.restore();
    }
};

function frameAxis(min, max, vals, fmt, font, tickLen, pad) {
    return {
        type: 'linear', min, max,
        afterBuildTicks: fixedTicks(vals),
        grid: { drawOnChartArea: false, tickLength: tickLen, color: '#888' },
        border: { display: false },
        ticks: { autoSkip: false, maxRotation: 0, color: GRAY_TICK, font, padding: pad, callback: fmt }
    };
}

const zip = (xs, ys) => xs.map((x, i) => [x, ys[i]]);

// ---------- panel letters ----------
[['a',8,10],['b',951,16],['c',8,402],['d',8,838],['e',355,836],['f',710,838],['g',708,1040],['h',8,1190],['i',8,1485],['j',382,1485],['k',708,1488]]
    .forEach(p => txt(p[0], p[1], p[2], { size: 30, font: LIB, color: '#000' }));

// ---------- panel a ----------
box(3, 30, 171, 25, { border: '1px solid #dcdfe3', borderRadius: '3px' });
txt('Protein', 12, 43, { size: 11, font: 'Roboto', color: '#444' });
txt('▲', 162, 40, { size: 5, color: '#333', anchor: 'c' });
txt('▼', 162, 45, { size: 5, color: '#333', anchor: 'c' });
box(3, 60, 934, 2, { background: '#eceef0' });
box(7, 65, 102, 21, { border: '1px solid #e3e5e8', borderRadius: '2px' });
txt('Search gene', 13, 76, { size: 9.5, font: 'Roboto', color: '#777' });
txt('Signed p-values', 563, 78, { size: 11.5, font: 'Roboto', weight: 'bold', color: '#333', anchor: 'c' });
box(3, 89, 934, 2, { background: '#e9ebee' });
box(3, 113, 934, 2, { background: '#dfe3e8' });

const tableCols = [
    { name: 'Meta P', head: 123, mid: 149, icon: 184, vals: tableMetaP },
    { name: 'BRCA', head: 204, mid: 228, icon: 258, vals: tableBRCA },
    { name: 'CCRCC', head: 280, mid: 308, icon: 345, vals: tableCCRCC },
    { name: 'COAD', head: 365, mid: 389, icon: 421, vals: tableCOAD },
    { name: 'GBM', head: 440, mid: 461, icon: 488, vals: tableGBM },
    { name: 'HNSCC', head: 510, mid: 538, icon: 575, vals: tableHNSCC },
    { name: 'LSCC', head: 595, mid: 618, icon: 648, vals: tableLSCC },
    { name: 'LUAD', head: 668, mid: 692, icon: 722, vals: tableLUAD },
    { name: 'OV', head: 742, mid: 758, icon: 781, vals: tableOV },
    { name: 'PDAC', head: 802, mid: 825, icon: 856, vals: tablePDAC },
    { name: 'UCEC', head: 876, mid: 900, icon: 930, vals: tableUCEC }
];
txt('Gene', 7, 103, { size: 11, font: 'Roboto', weight: 'bold', color: '#222' });
tableCols.forEach((col, ci) => {
    txt(col.name, col.head, 103, { size: 11, font: 'Roboto', weight: 'bold', color: '#222' });
    txt('▲', col.icon, 99.5, { size: 5, color: ci === 0 ? '#6a62d8' : '#d5d7da', anchor: 'c' });
    if (ci > 0) txt('▼', col.icon, 104.5, { size: 5, color: '#d5d7da', anchor: 'c' });
});
tableGenes.forEach((gene, r) => {
    const y = 127 + r * 23.6;
    if (r % 2 === 0) box(3, Math.round(y - 11.5), 934, 23, { background: '#f2f2f2' });
    txt('+', 11, y, { size: 19, font: LIB, color: '#e8675a', anchor: 'c' });
    txt(gene, 29, y + 1, { size: 11, font: 'Roboto', color: '#3d8eea' });
    tableCols.forEach(col => txt(col.vals[r], col.mid, y + 1, { size: 11, font: 'Roboto', color: '#333', anchor: 'c' }));
});

// ---------- panel b ----------
mount({ l: 1019, t: 9, r: 1349, b: 352 }, { l: 45, t: 8, r: 1, b: 20 }, {
    type: 'scatter',
    data: { datasets: [
        { data: bHighlighted, pointRadius: 3, pointBackgroundColor: '#ff0000', pointBorderWidth: 0, order: 0 },
        { data: bDiagonal, showLine: true, borderColor: '#000', borderWidth: 1.6, pointRadius: 0, order: 1 },
        { data: bLoosePoints, pointRadius: 2.8, pointBackgroundColor: '#bebebe', pointBorderWidth: 0, order: 2 },
        { data: bCloudOutline, showLine: true, fill: 'shape', backgroundColor: '#bebebe', borderColor: '#bebebe', borderWidth: 4, pointRadius: 0, order: 3 }
    ] },
    options: { scales: {
        x: frameAxis(-166, 153, bTicksX, v => v, { size: 12 }, 3, 2),
        y: frameAxis(-123, 127, bTicksY, v => v, { size: 12 }, 3, 2)
    } },
    plugins: [framePlugin]
});
txt('Signed log of meta p-values of proteins', 1184, 382, { size: 15.2, anchor: 'c', color: '#111' });
txt('Signed log of meta p-values of mRNAs', 972, 180, { size: 15, anchor: 'c', rot: -90, color: '#111' });
txt('UTP4', 1304, 144, { size: 16, color: '#ff0000' });
txt('SMARCA5', 1245, 184, { size: 16, color: '#ff0000' });

// ---------- panel c ----------
function bubbleColor(v) {
    const pos = ['#f7f7f7','#fddbc7','#f4a582','#d6604d','#b2182b','#67001f'];
    const neg = ['#f7f7f7','#d1e5f0','#92c5de','#4393c3','#2166ac','#053061'];
    const list = v >= 0 ? pos : neg;
    const t = Math.min(Math.abs(v), 0.999) * 5, i = Math.floor(t), f = t - i;
    const ch = (h, k) => parseInt(h.substr(1 + k * 2, 2), 16);
    const mix = k => Math.round(ch(list[i], k) * (1 - f) + ch(list[i + 1], k) * f);
    return 'rgb(' + mix(0) + ',' + mix(1) + ',' + mix(2) + ')';
}
const bubbleLabels = {
    id: 'bubbleLabels',
    afterDatasetsDraw(chart) {
        const g = chart.ctx, meta = chart.getDatasetMeta(0);
        g.save();
        g.font = '16.5px "DejaVu Sans"';
        g.fillStyle = '#000';
        g.textAlign = 'center';
        g.textBaseline = 'middle';
        meta.data.forEach((p, i) => {
            const raw = chart.data.datasets[0].data[i];
            if (!raw.hide) g.fillText(raw.v.toFixed(2), p.x, p.y + 1);
        });
        g.restore();
    }
};
cCancers.forEach((name, idx) => {
    const dx = (idx % 5) * 266, dy = idx < 5 ? 0 : 213;
    txt(name, 125 + dx, 422 + dy, { size: 17, anchor: 'c' });
    txt('protein', 28 + dx, 450 + dy, { size: 16 });
    txt('mRNA', 77 + dx, 496 + dy, { size: 16 });
    txt('SCNV', 125 + dx, 541 + dy, { size: 16 });
    txt('methylation', 181 + dx, 586 + dy, { size: 16 });
    mount({ l: 34 + dx, t: 473 + dy, r: 170 + dx, b: 608 + dy }, { l: 28, t: 24, r: 28, b: 24 }, {
        type: 'bubble',
        data: { datasets: [{
            data: cValues[idx].map(c => ({ x: c[0] + 0.5, y: c[1] + 0.5, r: 22.7 * Math.sqrt(Math.abs(c[2])), v: c[2], hide: c[3] === 'nolabel' })),
            backgroundColor: ctx => bubbleColor(ctx.raw.v),
            borderColor: '#808080', borderWidth: 1.5, clip: false
        }] },
        options: { scales: {
            x: { display: false, min: 0, max: 3 },
            y: { display: false, min: 0, max: 3, reverse: true }
        } },
        plugins: [bubbleLabels]
    });
});

// ---------- panels d, e ----------
function fitPanel(plot, pts, fitX, fit, up, low, ticksX, ticksY, xr, yr) {
    const small = { size: 9, family: LIB };
    mount(plot, { l: 24, t: 10, r: 1, b: 14 }, {
        type: 'scatter',
        data: { datasets: [
            { data: pts, pointRadius: 1.5, pointBackgroundColor: '#000', pointBorderWidth: 0, order: 0 },
            { data: zip(fitX, fit), showLine: true, borderColor: '#b3b3b3', borderWidth: 1.2, pointRadius: 0, order: 1 },
            { data: zip(fitX, up), showLine: true, borderWidth: 0, pointRadius: 0, order: 2 },
            { data: zip(fitX, low), showLine: true, borderWidth: 0, pointRadius: 0, fill: '-1', backgroundColor: '#d9d9d9', order: 2 }
        ] },
        options: { scales: {
            x: frameAxis(xr[0], xr[1], ticksX, v => v.toFixed(1), small, 2, -1),
            y: frameAxis(yr[0], yr[1], ticksY, v => v.toFixed(1), small, 2, 0)
        } },
        plugins: [framePlugin]
    });
}
fitPanel({ l: 56, t: 848, r: 336, b: 1128 }, dPoints, dFitX, dFitY, dFitUpper, dFitLower, dTicksX, dTicksY, [24.946, 26.97], [10.518, 13.622]);
fitPanel({ l: 400, t: 848, r: 679, b: 1128 }, ePoints, eFitX, eFitY, eFitUpper, eFitLower, eTicksX, eTicksY, [24.914, 27.21], [24.64, 27.18]);
txt('n=121; p-val=0.74; rho=0.031', 56, 841, { size: 9.2, font: LIB, color: '#333' });
txt('n=122; p-val=9.6e-21; rho=0.72', 400, 841, { size: 9.2, font: LIB, color: '#333' });
txt('protein level of SMARCA5', 195, 1143, { size: 11, font: LIB, anchor: 'c', color: '#222' });
txt('protein level of SMARCA5', 539, 1143, { size: 11, font: LIB, anchor: 'c', color: '#222' });
txt('RNA level of SMARCA5', 29, 987, { size: 11, font: LIB, anchor: 'c', rot: -90, color: '#222' });
txt('protein level of BAZ1B', 372, 987, { size: 11.5, font: LIB, anchor: 'c', rot: -90, color: '#222' });

// ---------- heatmaps ----------
const levelColors = { '-4': '#053061', '-3': '#3079b6', '-2': '#6bacd1', '-1': '#c8e0ed', 0: '#f2efee', 1: '#fcd7c2', 2: '#e58368', 3: '#c43c3c', 4: '#67001f' };
const legendColors = ['#053061','#3079b6','#6bacd1','#c8e0ed','#f2efee','#ffffff','#f2efee','#fcd7c2','#e58368','#c43c3c','#67001f'];
const heatTickFont = { size: 10 };

function heatBlock(plot, rowNames, rows, labels, showY, m) {
    mount(plot, m, {
        type: 'bar',
        data: { labels, datasets: rows.map(v => ({
            data: v.map(() => 1),
            backgroundColor: v.map(l => levelColors[l]),
            borderColor: 'rgba(255,255,255,0.28)',
            borderWidth: 1,
            barPercentage: 1, categoryPercentage: 1
        })) },
        options: { scales: {
            x: { stacked: true,
                 grid: { drawOnChartArea: false, tickLength: 5, color: '#444' },
                 border: { display: true, color: '#444', width: 2 },
                 ticks: { color: '#222', font: heatTickFont, padding: 1, maxRotation: 0, autoSkip: false } },
            y: { display: showY, stacked: true, min: 0, max: rows.length,
                 afterBuildTicks: fixedTicks(rows.map((_, i) => i + 0.5)),
                 grid: { drawOnChartArea: false, tickLength: 6, color: '#444' },
                 border: { display: false },
                 ticks: { color: '#222', font: heatTickFont, padding: 3, autoSkip: false, callback: v => rowNames[Math.floor(v)] } }
        } }
    });
}
function heatmap(y0, y1, x0, x1, mx0, mx1, rowNames, rows, meta) {
    heatBlock({ l: x0, t: y0, r: x1, b: y1 }, rowNames, rows, heatCancers, true, { l: 52, t: 10, r: 2, b: 22 });
    heatBlock({ l: mx0, t: y0, r: mx1, b: y1 }, rowNames, meta.map(v => [v]), ['metap'], false, { l: 4, t: 10, r: 1, b: 22 });
}
function legendBar(x0, x1, y0, y1) {
    mount({ l: x0, t: y0, r: x1, b: y1 }, { l: 8, t: 1, r: 16, b: 14 }, {
        type: 'bar',
        data: { labels: [''], datasets: legendCells.map((w, i) => ({
            data: [w], backgroundColor: legendColors[i], barPercentage: 1, categoryPercentage: 1
        })) },
        options: { indexAxis: 'y', scales: {
            x: { type: 'linear', stacked: true, min: 0, max: 10.66,
                 afterBuildTicks: fixedTicks(legendEdges),
                 grid: { display: false, drawTicks: false }, border: { display: false },
                 ticks: { color: '#222', font: { size: 10 }, padding: 1, autoSkip: false, maxRotation: 0,
                          callback: v => legendLabels[legendEdges.indexOf(v)] } },
            y: { display: false, stacked: true }
        } }
    });
}
const TWO_ROWS = ['protein','RNA'], THREE_ROWS = ['protein','RNA','SCNV'];
const titleStyle = { size: 14.5, color: '#111' };

// f
txt('Association between SMARCA5 and BAZ1B', 765, 871, titleStyle);
legendBar(758, 1084, 879, 887);
heatmap(904, 990, 758, 1308, 1318, 1349, TWO_ROWS, [fProtein, fRNA], fMeta);

// h
txt('Association between SMARCA5 and hallmark G2M checkpoint score', 54, 1189, titleStyle);
legendBar(53, 375, 1202, 1210);
heatmap(1227, 1313, 54, 597, 608, 638, THREE_ROWS, [h1Protein, h1RNA, h1SCNV], h1Meta);
txt('Association between SMARCA5 and chromosomal instability', 54, 1354, titleStyle);
heatmap(1367, 1453, 54, 597, 608, 638, THREE_ROWS, [h2Protein, h2RNA, h2SCNV], h2Meta);

// k
txt('Association between PLOD1 and hallmark EMT', 765, 1508, titleStyle);
legendBar(758, 1084, 1521, 1529);
heatmap(1546, 1631, 758, 1307, 1318, 1348, THREE_ROWS, [k1Protein, k1RNA, k1SCNV], k1Meta);
txt('Association between PLOD2 and hallmark EMT', 765, 1673, titleStyle);
heatmap(1686, 1771, 758, 1307, 1318, 1348, THREE_ROWS, [k2Protein, k2RNA, k2SCNV], k2Meta);

// ---------- panel g ----------
const BANDS = [[0.02,0.34,GREEN],[0.33,0.62,ORANGE],[0.63,0.93,PURPLE]];
function denseSet(origin, heights, band, sign) {
    const w = (band[1] - band[0]) / (heights.length - 1);
    const pts = [[origin + band[0], 0]];
    heights.forEach((h, i) => pts.push([origin + band[0] + i * w, sign * h]));
    pts.push([origin + band[1], 0]);
    return { data: pts, showLine: true, stepped: 'middle', fill: { value: 0 }, backgroundColor: band[2], borderColor: band[2],
             borderWidth: 2.5, borderDash: [2, 2], pointRadius: 0, order: 5 };
}
const marks = (data, color, style, rotation) => ({
    data, pointStyle: style, rotation: rotation || 0, pointRadius: 2.8,
    pointBackgroundColor: color, pointBorderColor: color, pointBorderWidth: 0, order: 2, clip: false
});
const refLine = (data, extra) => Object.assign({ data, showLine: true, pointRadius: 0, clip: false, order: 1 }, extra);

function gAxis(min, max, vals) {
    return {
        type: 'linear', min, max,
        afterBuildTicks: fixedTicks(vals),
        grid: { drawOnChartArea: false, tickLength: 4, color: '#555' },
        border: { display: true, color: '#555', width: 2 },
        ticks: { color: '#222', font: { size: 8.5 }, padding: 1, autoSkip: false }
    };
}
function gChart(plot, xmax, yAxis, datasets, top) {
    mount(plot, { l: 24, t: top, r: 1, b: 9 }, {
        type: 'scatter',
        data: { datasets },
        options: { scales: { x: { display: false, min: 0, max: xmax }, y: yAxis } }
    });
}
const baselineStyle = { borderColor: '#666', borderWidth: 2.5 };
const dashStyle = { borderColor: '#111', borderWidth: 1.3, borderDash: [2, 2.5] };
const leaderStyle = { borderColor: '#a6a6a6', borderWidth: 1.5 };

const gMainUp = [
    refLine([[0,0],[10,0]], baselineStyle), refLine([[0,6],[10,6]], dashStyle),
    marks(gUpProteinRect, GREEN, 'rect'), marks(gUpProteinTri, GREEN, 'triangle'), marks(gUpProteinInv, GREEN, 'triangle', 180),
    marks(gUpRnaMarks, ORANGE, 'rect'), marks(gUpScnvMarks, PURPLE, 'rect')
];
const gMainLow = [
    refLine([[0,0],[10,0]], baselineStyle), refLine([[0,-6],[10,-6]], dashStyle),
    marks(gLowProteinRect, GREEN, 'rect'), marks(gLowProteinTri, GREEN, 'triangle'),
    marks(gLowRnaMarks, ORANGE, 'rect'), marks(gLowScnvMarks, PURPLE, 'rect')
];
gGroups.forEach((_, i) => {
    [gUpProtein, gUpRNA, gUpSCNV].forEach((tbl, b) => gMainUp.push(denseSet(i, tbl[i], BANDS[b], 1)));
    [gLowProtein, gLowRNA, gLowSCNV].forEach((tbl, b) => gMainLow.push(denseSet(i, tbl[i], BANDS[b], -1)));
});
const gPanUp = [
    refLine([[0,0],[1,0]], baselineStyle),
    refLine(gLeaderG2M, leaderStyle), refLine(gLeaderE2F, leaderStyle), refLine(gLeaderMYC, leaderStyle), refLine(gLeaderCIN, leaderStyle),
    marks(gPanUpProtein, GREEN, 'rect'), marks(gPanUpRna, ORANGE, 'rect')
];
const gPanLow = [
    refLine([[0,0],[1,0]], baselineStyle),
    marks(gPanLowProtein, GREEN, 'rect'), marks(gPanLowRna, ORANGE, 'rect'), marks(gPanLowScnv, PURPLE, 'rect')
];
BANDS.forEach((band, b) => {
    gPanUp.push(denseSet(0, gPanUpDense[b], band, 1));
    gPanLow.push(denseSet(0, gPanLowDense[b], band, -1));
});
gChart({ l: 748, t: 1073, r: 801, b: 1253 }, 1, gAxis(0, 70, gTicksPanUp), gPanUp, 40);
gChart({ l: 822, t: 1071, r: 1347, b: 1253 }, 10, gAxis(0, 16, gTicksMainUp), gMainUp, 10);
gChart({ l: 748, t: 1272, r: 801, b: 1452 }, 1, gAxis(-70, 0, gTicksPanLow), gPanLow, 10);
gChart({ l: 822, t: 1272, r: 1347, b: 1445 }, 10, gAxis(-16, 0, gTicksMainLow), gMainLow, 10);

txt('G2M checkpoint', 743, 1035, { size: 12.5 });
txt('E2F targets', 771, 1050, { size: 12.5 });
txt('MYC targets V2', 750, 1098, { size: 12.5 });
txt('Chromosomal instability', 768, 1138, { size: 12 });
txt('-log10 of P-value', 717, 1247, { size: 12, anchor: 'c', rot: -90 });
txt('Pan-cancer', 773, 1263, { size: 11, anchor: 'c' });
gGroups.forEach((name, i) => txt(name, 847.6 + i * 52.55, 1263, { size: 11, anchor: 'c' }));

gLegendNames.forEach((name, i) => txt(name, 1299, 1354 + i * 15, { size: 11 }));
const legendPoint = (y, color, style, rotation, hollow) => ({
    data: [[0.5, y]], pointStyle: style, rotation: rotation || 0, pointRadius: 3, clip: false,
    pointBackgroundColor: hollow ? '#fff' : color, pointBorderColor: color, pointBorderWidth: hollow ? 1 : 0
});
mount({ l: 1279, t: 1347, r: 1303, b: 1467 }, { l: 0, t: 0, r: 0, b: 0 }, {
    type: 'scatter',
    data: { datasets: [
        legendPoint(0, GREEN, 'circle'), legendPoint(1, ORANGE, 'circle'), legendPoint(2, PURPLE, 'circle'),
        legendPoint(3, '#333', 'rectRot', 0, true), legendPoint(4, '#333', 'rect', 0, true),
        legendPoint(5, '#333', 'triangle', 0, true), legendPoint(6, '#333', 'triangle', 180, true), legendPoint(7, '#333', 'circle', 0, true)
    ] },
    options: { scales: { x: { display: false, min: 0, max: 1 }, y: { display: false, min: -0.45, max: 7.55, reverse: true } } }
});

// ---------- panels i, j ----------
const KM_GOLD = '#fdb813', KM_BLUE = '#1b84e0';
function kmPanel(plot, lowT, lowS, lowC, highT, highS, highC) {
    const small = { size: 9.5, family: LIB };
    const step = (x, y, color) => ({ data: zip(x, y), showLine: true, stepped: true, borderColor: color, borderWidth: 1.6, pointRadius: 0 });
    const censor = (data, color) => ({ data, pointStyle: 'cross', pointRadius: 3.2, pointBorderColor: color, pointBorderWidth: 1, pointBackgroundColor: color });
    mount(plot, { l: 28, t: 10, r: 1, b: 15 }, {
        type: 'scatter',
        data: { datasets: [step(highT, highS, KM_BLUE), censor(highC, KM_BLUE), step(lowT, lowS, KM_GOLD), censor(lowC, KM_GOLD)] },
        options: { scales: {
            x: frameAxis(-102, 2102, kmTicksX, v => v, small, 2, -1),
            y: frameAxis(-0.047, 1.05, kmTicksY, v => v.toFixed(2), small, 2, 1)
        } },
        plugins: [framePlugin]
    });
}
kmPanel({ l: 52, t: 1516, r: 341, b: 1748 }, iLowT, iLowS, iLowCensor, iHighT, iHighS, iHighCensor);
kmPanel({ l: 414, t: 1516, r: 703, b: 1748 }, jLowT, jLowS, jLowCensor, jHighT, jHighS, jHighCensor);

[[52, 'Hazard ratio: 2.25', 'P-value: 1.71e-06', 'PLOD2<=Median (n=52)', 'PLOD2>Median (n=51)'],
 [414, 'Hazard ratio: 4.9', 'P-value: 7.18e-07', 'PLOD1<=Median (n=52)', 'PLOD1>Median (n=51)']].forEach(p => {
    const x = p[0];
    txt(p[1], x, 1497, { size: 11, font: LIB, color: '#111' });
    txt(p[2], x, 1508, { size: 11, font: LIB, color: '#111' });
    txt('Survival probability', x - 28, 1633, { size: 11, font: LIB, anchor: 'c', rot: -90, color: '#222' });
    txt('Time', x + 144.5, 1765, { size: 11, font: LIB, anchor: 'c', color: '#111' });
    txt(p[3], x + 185.5, 1797, { size: 9.5, font: LIB, color: '#222' });
    txt(p[4], x + 185.5, 1805.5, { size: 9.5, font: LIB, color: '#222' });
    txt('+', x + 176, 1797, { size: 10, font: LIB, weight: 'bold', color: KM_GOLD, anchor: 'c' });
    txt('+', x + 176, 1805.5, { size: 10, font: LIB, weight: 'bold', color: KM_BLUE, anchor: 'c' });
});
</script>
</body>
</html>
